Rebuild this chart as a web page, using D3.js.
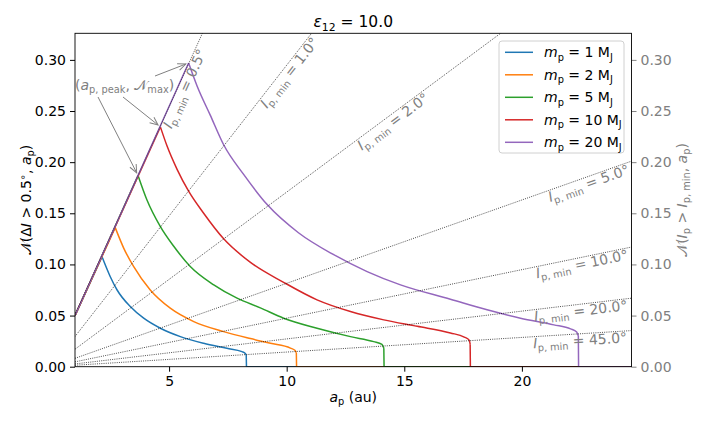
<!DOCTYPE html>
<html>
<head>
<meta charset="utf-8">
<script src="https://cdn.jsdelivr.net/npm/d3@7"></script>
<style>
  body { margin: 0; background: #fff; }
  svg { font-family: "DejaVu Sans", sans-serif; }
</style>
</head>
<body>
<div id="chart"></div>
<script>
// planet masses (M_J) and their colours
const masses = [1, 2, 5, 10, 20];
const colors = ['#1f77b4', '#ff7f0e', '#2ca02c', '#d62728', '#9467bd'];

// N(ΔI > 0.5°, a_p) curves, [a_p (au), N]
const curveM1 = [[1, 0.05], [2.15, 0.1075], [2.50, 0.088], [2.79, 0.075], [3.35, 0.0588], [3.92, 0.0474],
  [4.63, 0.0376], [5.48, 0.0294], [6.47, 0.0229], [7.46, 0.018], [8.10, 0.0147], [8.24, 0.013],
  [8.28, 0.0115], [8.29, 0], [24.66, 0]];
const curveM2 = [[1, 0.05], [2.71, 0.136], [3.07, 0.116], [3.49, 0.098], [4.20, 0.075], [5.05, 0.0572],
  [6.05, 0.0441], [7.32, 0.0343], [8.46, 0.0275], [9.31, 0.0229], [10.16, 0.0182], [10.36, 0.0158],
  [10.41, 0.0135], [10.42, 0], [24.66, 0]];
const curveM5 = [[1, 0.05], [3.68, 0.187], [4.06, 0.163], [4.63, 0.137], [5.19, 0.118], [5.90, 0.098],
  [6.90, 0.080], [7.89, 0.067], [8.88, 0.0575], [9.87, 0.0474], [11.29, 0.0376], [12.71, 0.0294],
  [13.70, 0.0245], [14.05, 0.0218], [14.13, 0.018], [14.14, 0], [24.66, 0]];
const curveM10 = [[1, 0.05], [4.63, 0.2345], [4.91, 0.216], [5.34, 0.193], [5.83, 0.1716], [6.47, 0.150],
  [7.32, 0.125], [8.46, 0.102], [9.87, 0.0825], [11.29, 0.0654], [12.71, 0.054], [14.13, 0.0458],
  [15.55, 0.0395], [16.96, 0.033], [17.55, 0.029], [17.76, 0.026], [17.80, 0.022], [17.81, 0], [24.66, 0]];
const curveM20 = [[1, 0.05], [5.83, 0.297], [6.19, 0.2745], [6.75, 0.246], [7.32, 0.217], [8.17, 0.188],
  [9.17, 0.1585], [10.5, 0.131], [12.0, 0.1095], [13.42, 0.093], [14.84, 0.080], [16.96, 0.066],
  [18.52, 0.0556], [19.94, 0.0474], [21.36, 0.0409], [22.07, 0.037], [22.33, 0.034], [22.40, 0.030],
  [22.41, 0], [24.66, 0]];
const curves = [curveM1, curveM2, curveM5, curveM10, curveM20];

// N(I_p > I_p,min, a_p) reference lines: value at left (a=1) and right edge (a=24.66)
const iMin = [0.5, 1.0, 2.0, 5.0, 10.0, 20.0, 45.0];
const refLeft = [0.0508, 0.0295, 0.0171, 0.0082, 0.00475, 0.00272, 0.00143];
const refRight = [1.253, 0.727, 0.421, 0.201, 0.117, 0.067, 0.0353];
const refLabelAt = [6.15, 11.0, 15.8, 24.45, 24.45, 24.45, 24.45];

const xTicks = [5, 10, 15, 20];
const yTicks = [0, 0.05, 0.10, 0.15, 0.20, 0.25, 0.30];
const xDomain = [1, 24.66];
const yDomain = [0, 0.326];
const title = '10.0';

const width = 706, height = 424;
const margin = { top: 33.3, right: 74.5, bottom: 57.3, left: 75 };
const fs = 14;
const grey = '#808080';

const svg = d3.select('#chart').append('svg')
  .attr('width', width).attr('height', height);

const x = d3.scaleLinear().domain(xDomain).range([margin.left, width - margin.right]);
const y = d3.scaleLinear().domain(yDomain).range([height - margin.bottom, margin.top]);

// writes mathtext-like runs into a text element
const rich = (sel, parts, size) => {
  let shift = 0;
  parts.forEach(p => {
    const target = p.sub ? size * 0.24 : (p.sup ? -size * 0.38 : 0);
    const ts = sel.append('tspan')
      .attr('dy', target - shift)
      .attr('font-size', (p.sub || p.sup) ? size * 0.7 : size)
      .text(p.t);
    if (p.it) ts.attr('font-style', 'italic');
    shift = target;
  });
};

svg.append('defs').append('clipPath').attr('id', 'clip')
  .append('rect')
  .attr('x', margin.left).attr('y', margin.top)
  .attr('width', width - margin.left - margin.right)
  .attr('height', height - margin.top - margin.bottom);

const plot = svg.append('g').attr('clip-path', 'url(#clip)');

const straight = d3.line().x(d => x(d[0])).y(d => y(d[1]));
const smooth = d3.line().x(d => x(d[0])).y(d => y(d[1])).curve(d3.curveMonotoneX);

// rising part straight, descent smooth, drop and floor straight
const curvePath = c => {
  const ip = c.reduce((m, d, i) => d[1] > c[m][1] ? i : m, 0);
  const iz = c.findIndex(d => d[1] === 0) - 1;
  return straight(c.slice(0, ip + 1)) + smooth(c.slice(ip, iz + 1)) + straight(c.slice(iz));
};

plot.append('g')
  .selectAll('path')
  .data(curves)
  .join('path')
  .attr('d', curvePath)
  .attr('fill', 'none')
  .attr('stroke', (d, i) => colors[i])
  .attr('stroke-width', 1.5)
  .attr('stroke-linejoin', 'round');

plot.append('g')
  .selectAll('line')
  .data(iMin)
  .join('line')
  .attr('x1', x(xDomain[0]))
  .attr('y1', (d, i) => y(refLeft[i]))
  .attr('x2', x(xDomain[1]))
  .attr('y2', (d, i) => y(refRight[i]))
  .attr('stroke', '#000')
  .attr('stroke-width', 0.7)
  .attr('stroke-dasharray', '1,1.2');

// labels along reference lines
iMin.forEach((v, i) => {
  const slope = (refRight[i] - refLeft[i]) / (xDomain[1] - xDomain[0]);
  const a = refLabelAt[i];
  const px = x(a), py = y(refLeft[i] + slope * (a - xDomain[0]));
  const ang = Math.atan2(y(refLeft[i] + slope * (a + 1 - xDomain[0])) - py, x(a + 1) - px) * 180 / Math.PI;
  const t = svg.append('text')
    .attr('transform', `translate(${px},${py}) rotate(${ang}) translate(0,${fs * 0.82})`)
    .attr('text-anchor', 'end')
    .attr('fill', grey);
  rich(t, [{ t: 'I', it: true }, { t: 'p, min', sub: true }, { t: ' = ' + v.toFixed(1) + '°' }], fs);
});

// axes
svg.append('g')
  .attr('transform', `translate(0,${height - margin.bottom})`)
  .call(d3.axisBottom(x).tickValues(xTicks).tickSize(5).tickPadding(4))
  .call(g => g.select('.domain').remove())
  .call(g => g.selectAll('text').attr('font-size', fs).attr('font-family', 'DejaVu Sans').attr('fill', '#000'));

svg.append('g')
  .attr('transform', `translate(${margin.left},0)`)
  .call(d3.axisLeft(y).tickValues(yTicks).tickFormat(d3.format('.2f')).tickSize(5).tickPadding(4))
  .call(g => g.select('.domain').remove())
  .call(g => g.selectAll('text').attr('font-size', fs).attr('font-family', 'DejaVu Sans').attr('fill', '#000'));

svg.append('g')
  .attr('transform', `translate(${width - margin.right},0)`)
  .call(d3.axisRight(y).tickValues(yTicks).tickFormat(d3.format('.2f')).tickSize(5).tickPadding(4))
  .call(g => g.select('.domain').remove())
  .call(g => g.selectAll('line').attr('stroke', grey))
  .call(g => g.selectAll('text').attr('font-size', fs).attr('font-family', 'DejaVu Sans').attr('fill', grey));

svg.append('rect')
  .attr('x', margin.left).attr('y', margin.top)
  .attr('width', width - margin.left - margin.right)
  .attr('height', height - margin.top - margin.bottom)
  .attr('fill', 'none').attr('stroke', '#000').attr('stroke-width', 0.9);

// title
const tt = svg.append('text')
  .attr('x', (margin.left + width - margin.right) / 2).attr('y', 27)
  .attr('text-anchor', 'middle');
rich(tt, [{ t: 'ε', it: true }, { t: '12', sub: true }, { t: ' = ' + title }], 15.5);

// axis labels
const xl = svg.append('text')
  .attr('x', (margin.left + width - margin.right) / 2).attr('y', 402)
  .attr('text-anchor', 'middle');
rich(xl, [{ t: 'a', it: true }, { t: 'p', sub: true }, { t: ' (au)' }], fs);

const yl = svg.append('text')
  .attr('transform', `translate(31,${(margin.top + height - margin.bottom) / 2}) rotate(-90)`)
  .attr('text-anchor', 'middle');
rich(yl, [{ t: '𝒩(Δ' }, { t: 'I', it: true }, { t: ' > 0.5' }, { t: '∘', sup: true }, { t: ', ' },
  { t: 'a', it: true }, { t: 'p', sub: true }, { t: ')' }], fs);

const yr = svg.append('text')
  .attr('transform', `translate(687,${(margin.top + height - margin.bottom) / 2}) rotate(-90)`)
  .attr('text-anchor', 'middle')
  .attr('fill', grey);
rich(yr, [{ t: '𝒩(' }, { t: 'I', it: true }, { t: 'p', sub: true }, { t: ' > ' }, { t: 'I', it: true },
  { t: 'p, min', sub: true }, { t: ', ' }, { t: 'a', it: true }, { t: 'p', sub: true }, { t: ')' }], fs);

// annotation with arrows to peaks
const defs = svg.select('defs');
defs.append('marker')
  .attr('id', 'head').attr('markerUnits', 'userSpaceOnUse')
  .attr('viewBox', '-10 -6 12 12').attr('refX', 0).attr('refY', 0)
  .attr('markerWidth', 12).attr('markerHeight', 12).attr('orient', 'auto')
  .append('path').attr('d', 'M-8,-3.5L0,0L-8,3.5')
  .attr('fill', 'none').attr('stroke', grey).attr('stroke-width', 1);

const at = svg.append('text').attr('x', 75).attr('y', 90).attr('fill', grey);
rich(at, [{ t: '(' }, { t: 'a', it: true }, { t: 'p, peak', sub: true }, { t: ', 𝒩' }, { t: 'max', sub: true }, { t: ')' }], fs);

const arrowFrom = [[98, 97], [123, 97], [155, 76]];
const peakOf = c => c.reduce((m, d) => d[1] > m[1] ? d : m, c[0]);
[2, 3, 4].forEach((ci, k) => {
  const p = peakOf(curves[ci]);
  const [sx, sy] = arrowFrom[k];
  const ex = x(p[0]), ey = y(p[1]);
  const len = Math.hypot(ex - sx, ey - sy);
  const sh = 3;
  svg.append('line')
    .attr('x1', sx).attr('y1', sy)
    .attr('x2', ex - (ex - sx) / len * sh).attr('y2', ey - (ey - sy) / len * sh)
    .attr('stroke', grey).attr('stroke-width', 1)
    .attr('marker-end', 'url(#head)');
});

// legend
const lg = svg.append('g').attr('transform', 'translate(499,41)');
lg.append('rect')
  .attr('width', 125).attr('height', 112).attr('rx', 3)
  .attr('fill', '#fff').attr('fill-opacity', 0.8)
  .attr('stroke', '#d0d0d0').attr('stroke-width', 1);
masses.forEach((m, i) => {
  const row = lg.append('g').attr('transform', `translate(0,${11.3 + i * 22.5})`);
  row.append('line').attr('x1', 6).attr('x2', 34).attr('stroke', colors[i]).attr('stroke-width', 1.5);
  const t = row.append('text').attr('x', 45).attr('y', 5);
  rich(t, [{ t: 'm', it: true }, { t: 'p', sub: true }, { t: ' = ' + m + ' M' }, { t: 'J', sub: true }], fs);
});
</script>
</body>
</html>
